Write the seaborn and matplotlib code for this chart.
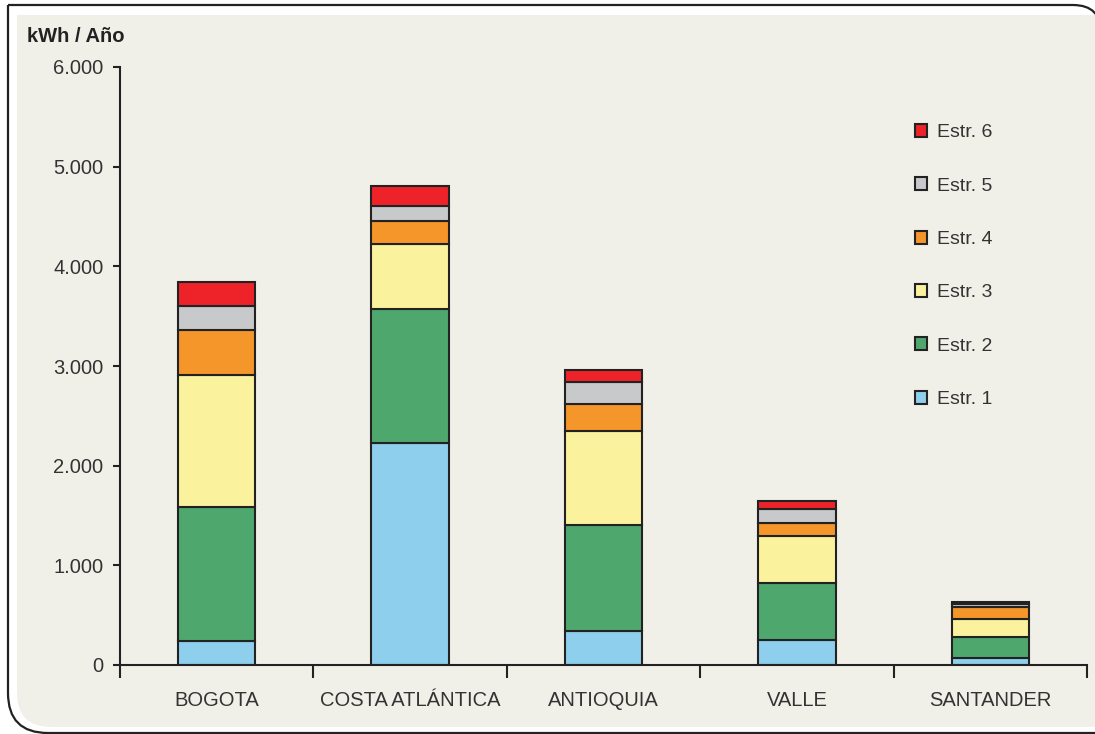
import numpy as np
import pandas as pd
import matplotlib
matplotlib.use("Agg")
import matplotlib.pyplot as plt
import seaborn as sns
from matplotlib.patches import Patch, PathPatch
from matplotlib.path import Path
from matplotlib.transforms import IdentityTransform
from matplotlib.ticker import FuncFormatter, FixedLocator

# data (kWh / año)
regiones = ["BOGOTA", "COSTA ATLÁNTICA", "ANTIOQUIA", "VALLE", "SANTANDER"]
estratos = ["Estr. 1", "Estr. 2", "Estr. 3", "Estr. 4", "Estr. 5", "Estr. 6"]
estr1 = [240, 2225, 340, 250, 75]
estr2 = [1345, 1345, 1065, 575, 210]
estr3 = [1325, 650, 945, 470, 180]
estr4 = [450, 235, 270, 125, 120]
estr5 = [240, 150, 215, 145, 24]
estr6 = [240, 205, 125, 80, 20]
colores = ["#8ecfee", "#4ea86e", "#fbf29e", "#f5962a", "#c8c9cb", "#ee2229"]

series = [estr1, estr2, estr3, estr4, estr5, estr6]
rows = []
for e, vals in zip(estratos, series):
    for r, v in zip(regiones, vals):
        rows.append({"region": r, "estrato": e, "kwh": v})
df = pd.DataFrame(rows)
df["region"] = pd.Categorical(df["region"], categories=regiones, ordered=True)

sns.set_style("ticks")
plt.rcParams["font.family"] = ["Liberation Sans", "DejaVu Sans"]

W, H = 1095, 734
fig = plt.figure(figsize=(W / 100, H / 100), dpi=100, facecolor="white")
ax = fig.add_axes([120 / W, (H - 665) / H, (1087 - 120) / W, (665 - 67) / H])
ax.set_facecolor("none")


def rounded_box(x0, y0, x1, y1, r_tr, r_bl):
    # top-left and bottom-right square, top-right and bottom-left rounded
    verts = [(x0, y1), (x1 - r_tr, y1), (x1, y1), (x1, y1 - r_tr),
             (x1, y0), (x0 + r_bl, y0), (x0, y0), (x0, y0 + r_bl), (x0, y1)]
    codes = [Path.MOVETO, Path.LINETO, Path.CURVE3, Path.CURVE3,
             Path.LINETO, Path.LINETO, Path.CURVE3, Path.CURVE3, Path.LINETO]
    return Path(verts, codes)


borde = PathPatch(rounded_box(8, 1, 1101, H - 5, 28, 40), facecolor="white",
                  edgecolor="#222222", lw=1.6, transform=IdentityTransform(), zorder=-10)
panel = PathPatch(rounded_box(17, 7, 1120, H - 15, 26, 34), facecolor="#f1f0e8",
                  edgecolor="none", transform=IdentityTransform(), zorder=-9)
fig.add_artist(borde)
fig.add_artist(panel)

sns.histplot(data=df, x="region", weights="kwh", hue="estrato",
             hue_order=estratos[::-1], palette=colores[::-1],
             multiple="stack", discrete=True, shrink=0.4, alpha=1,
             edgecolor="#222222", linewidth=1.5, legend=False, ax=ax)

ax.set_ylim(0, 6000)
ax.set_xlim(-0.5, 4.5)
ax.set_yticks(np.arange(0, 6001, 1000))
ax.yaxis.set_major_formatter(FuncFormatter(lambda v, p: f"{int(v):,}".replace(",", ".")))
ax.set_xticks(range(len(regiones)))
ax.set_xticklabels(regiones)
ax.xaxis.set_minor_locator(FixedLocator(np.arange(-0.5, 5, 1)))
ax.tick_params(axis="x", which="major", length=0, pad=19, labelsize=14.5, labelcolor="#333333")
ax.tick_params(axis="x", which="minor", length=9, width=1.5, direction="out", color="#222222")
ax.tick_params(axis="y", length=5, width=1.5, pad=7, labelsize=14.5, labelcolor="#333333", color="#222222")
ax.set_xlabel("")
ax.set_ylabel("")
for s in ["top", "right"]:
    ax.spines[s].set_visible(False)
for s in ["left", "bottom"]:
    ax.spines[s].set_color("#222222")
    ax.spines[s].set_linewidth(1.5)

fig.text(27 / W, 1 - 37 / H, "kWh / Año", fontsize=14.5, fontweight="bold",
         color="#222222", va="center", ha="left")

handles = [Patch(facecolor=c, edgecolor="#222222", linewidth=1.5, label=e)
           for e, c in zip(estratos[::-1], colores[::-1])]
ax.legend(handles=handles, loc="center left", bbox_to_anchor=(905 / W, 1 - 266 / H),
          bbox_transform=fig.transFigure, frameon=False, borderpad=0,
          handlelength=0.65, handleheight=0.65, handletextpad=0.5,
          labelspacing=1.85, fontsize=14, labelcolor="#333333")

fig.savefig("out.png", dpi=100, facecolor="white")
